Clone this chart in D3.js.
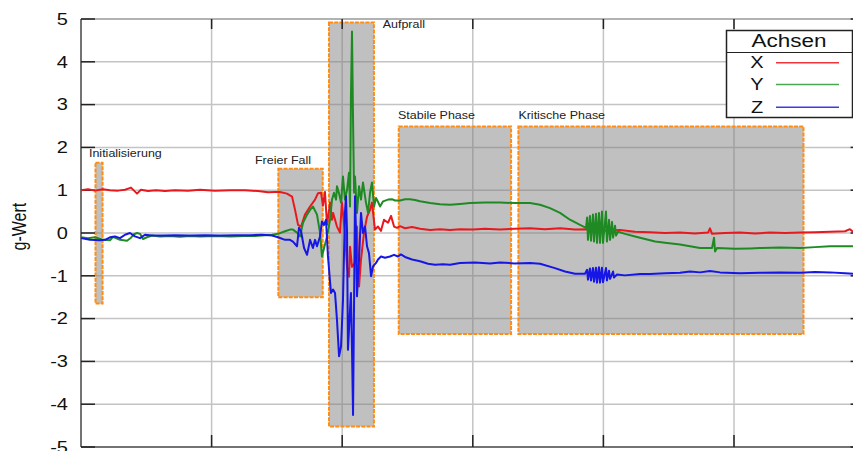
<!DOCTYPE html>
<html>
<head>
<meta charset="utf-8">
<script src="https://cdn.jsdelivr.net/npm/d3@7"></script>
<style>
  body { margin: 0; background: #fff; }
  svg { display: block; font-family: "Liberation Sans", Arial, sans-serif; }
</style>
</head>
<body>
<svg id="chart" width="853" height="451"></svg>
<script>
// y axis ticks (g-Wert)
const yTicks = [5, 4, 3, 2, 1, 0, -1, -2, -3, -4, -5]
// x grid (seconds, no labels shown)
const xTicks = [1, 2, 3, 4, 5]

// series: [time, g]
const serieX = [
  [0, 1.00], [0.054, 1.02], [0.107, 0.99], [0.168, 1.02], [0.222, 1.00], [0.283, 0.99], [0.337, 1.01],
  [0.383, 1.06], [0.406, 0.99], [0.429, 0.92], [0.459, 1.01], [0.513, 0.98], [0.574, 1.00], [0.643, 0.98],
  [0.720, 1.00], [0.819, 0.99], [0.911, 1.01], [1.026, 0.99], [1.141, 1.00], [1.256, 1.00], [1.355, 0.98],
  [1.432, 0.95], [1.486, 0.96], [1.524, 0.96], [1.577, 0.92], [1.616, 0.85], [1.639, 0.54], [1.662, 0.19],
  [1.685, 0.15], [1.715, 0.43], [1.754, 0.62], [1.792, 0.78], [1.815, 0.93], [1.838, 0.94], [1.853, 0.64],
  [1.868, 0.96], [1.884, 0.19], [1.907, 0.71], [1.922, 0.31], [1.930, 0.47], [1.960, 0.15], [1.983, 0.01],
  [1.998, 0.71], [2.021, 0.01], [2.037, -0.79], [2.052, -1.02], [2.060, -0.32], [2.075, -0.79], [2.098, -0.69],
  [2.113, 0.15], [2.129, -1.25], [2.144, -0.62], [2.167, 0.01], [2.190, 0.38], [2.213, 0.54], [2.228, 0.71],
  [2.251, 0.08], [2.274, 0.15], [2.297, 0.05], [2.320, 0.31], [2.351, 0.24], [2.374, 0.40], [2.397, 0.15],
  [2.420, 0.12], [2.443, 0.16], [2.481, 0.11], [2.535, 0.14], [2.596, 0.10], [2.673, 0.07], [2.749, 0.09],
  [2.826, 0.07], [2.902, 0.09], [3.002, 0.08], [3.093, 0.10], [3.208, 0.08], [3.323, 0.10], [3.438, 0.11],
  [3.553, 0.09], [3.668, 0.11], [3.783, 0.08], [3.897, 0.09], [4.012, 0.05], [4.127, 0.07], [4.242, 0.03],
  [4.357, 0.02], [4.472, 0.00], [4.587, 0.01], [4.701, -0.01], [4.801, 0.01], [4.816, 0.11], [4.832, -0.02],
  [4.931, 0.00], [5.046, 0.01], [5.161, -0.01], [5.276, 0.01], [5.391, 0.00], [5.506, 0.01], [5.620, 0.02],
  [5.735, 0.03], [5.850, 0.04], [5.888, 0.09], [5.911, 0.03]
]

const serieY = [
  [0, -0.10], [0.054, -0.12], [0.107, -0.10], [0.168, -0.16], [0.222, -0.17], [0.245, -0.09], [0.276, -0.13],
  [0.299, -0.16], [0.352, -0.18], [0.383, -0.11], [0.406, -0.03], [0.429, 0.00], [0.452, -0.02], [0.475, -0.14],
  [0.505, -0.10], [0.544, -0.06], [0.605, -0.08], [0.681, -0.07], [0.758, -0.09], [0.835, -0.07], [0.911, -0.08],
  [1.026, -0.07], [1.141, -0.08], [1.256, -0.07], [1.332, -0.07], [1.409, -0.05], [1.463, -0.04], [1.509, -0.02],
  [1.562, 0.04], [1.600, 0.08], [1.623, 0.08], [1.654, 0.01], [1.677, -0.08], [1.700, 0.24], [1.731, 0.43],
  [1.754, 0.54], [1.776, 0.62], [1.807, 0.43], [1.830, 0.01], [1.845, -0.55], [1.868, -0.27], [1.884, -0.08],
  [1.907, 0.31], [1.922, 0.78], [1.937, 0.94], [1.953, 0.78], [1.960, 1.09], [1.976, 0.92], [1.991, 0.71],
  [2.006, 1.32], [2.021, 0.78], [2.037, 1.01], [2.052, 1.41], [2.060, 0.62], [2.067, 3.19], [2.075, 4.71],
  [2.083, 2.65], [2.091, 0.94], [2.098, 1.32], [2.113, 0.47], [2.129, 1.09], [2.144, 0.78], [2.159, 1.18],
  [2.182, 0.71], [2.198, 0.47], [2.213, 0.94], [2.228, 1.18], [2.244, 0.62], [2.259, 0.82], [2.274, 0.73],
  [2.290, 0.62], [2.313, 0.74], [2.351, 0.78], [2.381, 0.79], [2.404, 0.76], [2.443, 0.76], [2.481, 0.79],
  [2.519, 0.79], [2.557, 0.77], [2.596, 0.74], [2.673, 0.70], [2.749, 0.67], [2.826, 0.66], [2.902, 0.68],
  [2.979, 0.70], [3.093, 0.71], [3.208, 0.71], [3.323, 0.70], [3.438, 0.70], [3.515, 0.66], [3.591, 0.58],
  [3.668, 0.47], [3.744, 0.31], [3.821, 0.19], [3.867, 0.12],
  [3.875, 0.36], [3.882, -0.16], [3.897, 0.40], [3.905, -0.18], [3.920, 0.43], [3.928, -0.20], [3.943, 0.45],
  [3.951, -0.23], [3.966, 0.47], [3.974, -0.23], [3.989, 0.50], [3.997, -0.23], [4.020, 0.50], [4.027, -0.20],
  [4.043, 0.31], [4.051, -0.16], [4.066, 0.26], [4.074, -0.11], [4.089, 0.17], [4.097, -0.06],
  [4.112, 0.03], [4.165, -0.02], [4.242, -0.08], [4.319, -0.14], [4.396, -0.20], [4.472, -0.23], [4.587, -0.27],
  [4.663, -0.31], [4.740, -0.35], [4.832, -0.35], [4.847, -0.11], [4.855, -0.43], [4.870, -0.35], [5.008, -0.37],
  [5.123, -0.36], [5.199, -0.35], [5.352, -0.34], [5.506, -0.35], [5.620, -0.33], [5.735, -0.31], [5.850, -0.31],
  [5.911, -0.31]
]

const serieZ = [
  [0, -0.12], [0.069, -0.16], [0.145, -0.17], [0.184, -0.16], [0.222, -0.10], [0.260, -0.08], [0.299, -0.12],
  [0.337, -0.04], [0.375, 0.00], [0.413, -0.08], [0.452, -0.12], [0.490, -0.04], [0.544, -0.06], [0.620, -0.06],
  [0.720, -0.05], [0.835, -0.06], [0.949, -0.05], [1.064, -0.06], [1.179, -0.05], [1.294, -0.05], [1.386, -0.04],
  [1.463, -0.06], [1.509, -0.10], [1.562, -0.16], [1.600, -0.16], [1.623, -0.20], [1.654, -0.31], [1.669, 0.12],
  [1.685, 0.04], [1.708, -0.35], [1.731, -0.51], [1.754, -0.16], [1.776, -0.35], [1.792, -0.16], [1.807, -0.31],
  [1.830, -0.08], [1.845, 0.27], [1.861, 0.19], [1.876, 0.31], [1.891, -0.55], [1.914, -1.40], [1.930, -1.32],
  [1.945, -1.40], [1.960, -2.03], [1.976, -2.88], [1.991, -2.65], [2.006, -1.56], [2.021, 0.47], [2.029, 0.86],
  [2.037, 0.01], [2.044, -2.73], [2.060, -1.79], [2.067, -1.40], [2.075, -2.73], [2.083, -4.25], [2.091, -1.56],
  [2.098, 0.86], [2.106, 0.01], [2.113, -1.48], [2.129, -0.62], [2.144, 0.47], [2.159, 0.00], [2.175, 0.15],
  [2.190, -0.31], [2.205, -0.47], [2.221, -1.01], [2.236, -0.78], [2.259, -0.70], [2.274, -0.62], [2.297, -0.55],
  [2.328, -0.58], [2.366, -0.55], [2.397, -0.51], [2.427, -0.55], [2.450, -0.50], [2.481, -0.56], [2.535, -0.62],
  [2.596, -0.66], [2.657, -0.72], [2.711, -0.74], [2.772, -0.73], [2.826, -0.74], [2.902, -0.70], [3.017, -0.69],
  [3.132, -0.71], [3.208, -0.69], [3.323, -0.71], [3.438, -0.70], [3.515, -0.72], [3.629, -0.82], [3.706, -0.90],
  [3.783, -0.95], [3.859, -0.95],
  [3.875, -0.86], [3.882, -1.09], [3.897, -0.83], [3.905, -1.11], [3.920, -0.82], [3.928, -1.14], [3.943, -0.81],
  [3.951, -1.16], [3.966, -0.80], [3.974, -1.16], [3.989, -0.81], [3.997, -1.15], [4.020, -0.82], [4.027, -1.11],
  [4.043, -0.88], [4.051, -1.07], [4.074, -0.90], [4.081, -1.04],
  [4.104, -0.97], [4.165, -0.99], [4.280, -0.96], [4.357, -0.96], [4.472, -0.94], [4.587, -0.93], [4.663, -0.90],
  [4.740, -0.92], [4.816, -0.89], [4.893, -0.92], [5.046, -0.94], [5.199, -0.93], [5.352, -0.92], [5.506, -0.93],
  [5.620, -0.91], [5.735, -0.92], [5.850, -0.94], [5.911, -0.95]
]

// phases: name, time span, g span, label position
const phaseNames = ["Initialisierung", "Freier Fall", "Aufprall", "Stabile Phase", "Kritische Phase"]
const phaseStart = [0.111, 1.511, 1.899, 2.433, 3.349]
const phaseEnd = [0.165, 1.851, 2.243, 3.293, 5.532]
const phaseTop = [1.64, 1.50, 4.92, 2.49, 2.49]
const phaseBottom = [-1.65, -1.50, -4.52, -2.36, -2.36]
const labelT = [0.061, 1.332, 2.310, 2.427, 3.349]
const labelG = [1.77, 1.62, 4.78, 2.66, 2.66]

const legendNames = ["X", "Y", "Z"]
const colors = ["#e8191e", "#1f8a24", "#1616e6"]
const legendColors = ["#f0363a", "#4aa84e", "#3a3af0"]

const svg = d3.select('#chart')
const margin = {top: 19, left: 81}
const plotW = 783.6
const plotH = 428

const x = d3.scaleLinear().domain([0, 6]).range([margin.left, margin.left + plotW])
const y = d3.scaleLinear().domain([-5, 5]).range([margin.top + plotH, margin.top])
const sx = 1.25   // text is stretched horizontally in the original

svg.append("rect").attr("width", 853).attr("height", 451).attr("fill", "#fff")

// grid
svg.append("g").selectAll("line").data(yTicks.filter(d => d > -5 && d < 5)).join("line")
  .attr("x1", x(0)).attr("x2", x(6)).attr("y1", d => y(d)).attr("y2", d => y(d))
  .attr("stroke", "#c4c4c4").attr("stroke-width", 1.5)
svg.append("g").selectAll("line").data(xTicks).join("line")
  .attr("x1", d => x(d)).attr("x2", d => x(d)).attr("y1", y(5)).attr("y2", y(-5))
  .attr("stroke", "#c4c4c4").attr("stroke-width", 1.5)

// phase boxes
svg.append("g").selectAll("rect").data(phaseNames).join("rect")
  .attr("x", (d, i) => x(phaseStart[i]))
  .attr("y", (d, i) => y(phaseTop[i]))
  .attr("width", (d, i) => x(phaseEnd[i]) - x(phaseStart[i]))
  .attr("height", (d, i) => y(phaseBottom[i]) - y(phaseTop[i]))
  .attr("fill", "#7c7c7c").attr("fill-opacity", 0.48)
  .attr("stroke", "#ff8c14").attr("stroke-width", 2).attr("stroke-dasharray", "4,1.2")

svg.append("g").selectAll("text").data(phaseNames).join("text")
  .attr("transform", (d, i) => `translate(${x(labelT[i])},${y(labelG[i])}) scale(${sx},1)`)
  .attr("font-size", "10px").attr("fill", "#222")
  .text(d => d)

// frame
svg.append("line").attr("x1", x(0)).attr("x2", x(6)).attr("y1", y(5)).attr("y2", y(5))
  .attr("stroke", "#999").attr("stroke-width", 1.5)
svg.append("line").attr("x1", x(0)).attr("x2", x(6)).attr("y1", y(-5)).attr("y2", y(-5))
  .attr("stroke", "#444").attr("stroke-width", 1.5)
svg.append("line").attr("x1", x(0)).attr("x2", x(0)).attr("y1", y(5)).attr("y2", y(-5))
  .attr("stroke", "#444").attr("stroke-width", 1.5)

// inward ticks
const ticks = svg.append("g").attr("stroke", "#222").attr("stroke-width", 1.5)
ticks.selectAll(".tl").data(yTicks).join("line").attr("class", "tl")
  .attr("x1", x(0)).attr("x2", x(0) + 14).attr("y1", d => y(d)).attr("y2", d => y(d))
ticks.selectAll(".tr").data(yTicks).join("line").attr("class", "tr")
  .attr("x1", x(6)).attr("x2", x(6) - 14).attr("y1", d => y(d)).attr("y2", d => y(d))
ticks.selectAll(".tb").data(xTicks).join("line").attr("class", "tb")
  .attr("x1", d => x(d)).attr("x2", d => x(d)).attr("y1", y(-5)).attr("y2", y(-5) - 12)
ticks.selectAll(".tt").data(xTicks).join("line").attr("class", "tt")
  .attr("x1", d => x(d)).attr("x2", d => x(d)).attr("y1", y(5)).attr("y2", y(5) + 10)

// y tick labels
svg.append("g").selectAll("text").data(yTicks).join("text")
  .attr("transform", d => `translate(68,${y(d)}) scale(${sx},1)`)
  .attr("text-anchor", "end").attr("dy", "0.36em")
  .attr("font-size", "16px").attr("fill", "#111")
  .text(d => d)

svg.append("text")
  .attr("transform", `translate(26,${y(0.15)}) rotate(-90) scale(1,${sx})`)
  .attr("text-anchor", "middle").attr("font-size", "16px").attr("fill", "#111")
  .text("g-Wert")

// series
const line = d3.line().x(d => x(d[0])).y(d => y(d[1]))
svg.append("g").selectAll("path").data([serieX, serieY, serieZ]).join("path")
  .attr("d", line).attr("fill", "none")
  .attr("stroke", (d, i) => colors[i]).attr("stroke-width", 2)
  .attr("stroke-linejoin", "round")

// legend
const lg = svg.append("g")
lg.append("rect").attr("x", 726.5).attr("y", 30.5).attr("width", 126).attr("height", 87)
  .attr("fill", "#fff").attr("stroke", "#222").attr("stroke-width", 1.5)
lg.append("line").attr("x1", 726.5).attr("x2", 852.5).attr("y1", 52.5).attr("y2", 52.5)
  .attr("stroke", "#222").attr("stroke-width", 1.2)
lg.append("text").attr("transform", `translate(789,47) scale(${sx},1)`)
  .attr("text-anchor", "middle").attr("font-size", "18px").attr("fill", "#111").text("Achsen")
const rowY = [62.7, 84.5, 107.3]
legendNames.forEach((n, i) => {
  lg.append("text").attr("transform", `translate(757,${rowY[i]}) scale(${sx},1)`)
    .attr("text-anchor", "middle").attr("dy", "0.36em").attr("font-size", "16px").attr("fill", "#111").text(n)
  lg.append("line").attr("x1", 776).attr("x2", 839).attr("y1", rowY[i]).attr("y2", rowY[i])
    .attr("stroke", legendColors[i]).attr("stroke-width", 1.6)
})
</script>
</body>
</html>
